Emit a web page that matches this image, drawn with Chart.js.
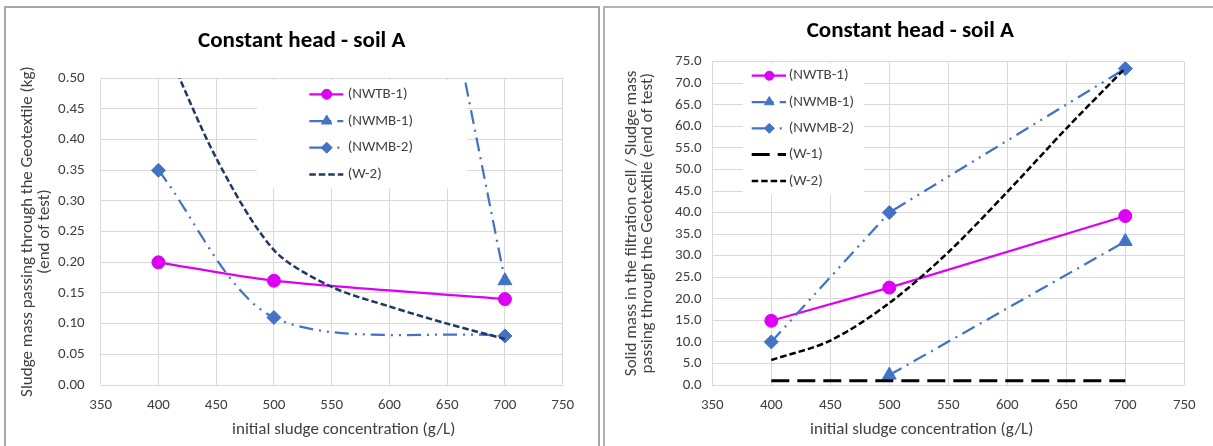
<!DOCTYPE html>
<html><head><meta charset="utf-8">
<script src="https://cdn.jsdelivr.net/npm/chart.js@4.4.0/dist/chart.umd.min.js"></script>
<style>
html,body{margin:0;padding:0;background:#fff;overflow:hidden;}
#wrap{position:relative;width:1213px;height:446px;overflow:hidden;}
.panel{position:absolute;border:2px solid #a6a6a6;box-sizing:border-box;}
canvas{position:absolute;top:0;}
</style></head><body>
<div id="wrap">
<div class="panel" style="left:4px;top:6px;width:596px;height:470px;"></div>
<div class="panel" style="left:603px;top:6px;width:626px;height:470px;border-color:#b4b4b4"></div>
<canvas id="c1" width="600" height="446" style="left:0"></canvas>
<canvas id="c2" width="609" height="446" style="left:604px"></canvas>
</div>
<script>
// ---------- data ----------
const concentrations = [400, 500, 700];
const wConcentrations = [400, 450, 500, 550, 600, 650, 700];
const seriesNames = ['(NWTB-1)', '(NWMB-1)', '(NWMB-2)', '(W-1)', '(W-2)'];
const chartTitle = 'Constant head - soil A';
const xAxisTitle = 'initial sludge concentration (g/L)';
const leftYTitle = ['Sludge mass passing through the Geotextile (kg)', '(end of test)'];
const rightYTitle = ['Solid mass in the filtration cell / Sludge mass', 'passing through the Geotextile (end of test)'];
const xRange = [350, 750, 50];
const leftYRange = [0, 0.5, 0.05];
const rightYRange = [0, 75, 5];

// left chart: sludge mass passing (kg)
const leftNWTB1 = [0.20, 0.17, 0.14];
const leftNWMB1 = [null, 2.06, 0.17];
const leftNWMB2 = [0.35, 0.11, 0.08];
const leftW2 = [0.58, 0.37, 0.22, 0.16, 0.128, 0.10, 0.075];

// right chart: ratio
const rightNWTB1 = [14.9, 22.6, 39.2];
const rightNWMB1 = [null, 2.3, 33.3];
const rightNWMB2 = [10.0, 40.0, 73.4];
const rightW1 = [1.0, 1.0, 1.0];
const rightW2 = [5.8, 10.3, 19.0, 30.8, 44.8, 59.5, 73.5];

// ---------- styling ----------
const FONT = 'Carlito, Lato, "Open Sans", sans-serif';
Chart.defaults.font.family = FONT;
const MAGENTA = '#DD00F5', BLUE = '#4472C4', NAVY = '#1F3864', BLACK = '#000000';
const TXT = '#404040', GRID = '#d9d9d9';
const DASH_DOT = [14, 6, 2, 6];
const DASH_DOT_DOT = [14, 6, 2, 6, 2, 6];
const SHORT_DASH = [6.5, 3];
const LONG_DASH = [18, 8];

const pts = (xs, ys) => xs.map((x, i) => ({x: x, y: ys[i]}));

function ds(label, data, color, width, dash, style, radius, tension, order) {
  return {
    label, data, borderColor: color, backgroundColor: color, borderWidth: width,
    borderDash: dash, pointStyle: style || 'circle', pointRadius: radius,
    pointBackgroundColor: color, pointBorderColor: color, pointBorderWidth: 1,
    pointHoverRadius: radius, tension: tension, fill: false, order: order, spanGaps: false
  };
}

const boxLegend = {
  id: 'boxLegend',
  beforeDatasetsDraw(chart, args, o) {
    if (!o || !o.box) return;
    const ctx = chart.ctx;
    ctx.save();
    ctx.fillStyle = '#ffffff';
    ctx.fillRect(o.box[0], o.box[1], o.box[2] - o.box[0], o.box[3] - o.box[1]);
    ctx.restore();
  },
  afterDatasetsDraw(chart, args, o) {
    if (!o || !o.box) return;
    const ctx = chart.ctx;
    chart.data.datasets.forEach((d, i) => {
      const y = o.y0 + i * o.dy;
      ctx.save();
      ctx.strokeStyle = d.borderColor;
      ctx.lineWidth = d.borderWidth;
      ctx.setLineDash(d.borderDash || []);
      ctx.beginPath(); ctx.moveTo(o.x1, y); ctx.lineTo(o.x2, y); ctx.stroke();
      ctx.setLineDash([]);
      if (d.pointRadius > 0) {
        ctx.fillStyle = d.pointBackgroundColor;
        ctx.strokeStyle = d.pointBorderColor;
        ctx.lineWidth = 1;
        Chart.helpers.drawPoint(ctx, {pointStyle: d.pointStyle, radius: o.markerR[d.pointStyle], rotation: 0, borderWidth: 1}, o.xm, y);
      }
      ctx.fillStyle = TXT;
      ctx.font = o.fontSize + 'px ' + FONT;
      ctx.textBaseline = 'middle';
      ctx.textAlign = 'left';
      ctx.fillText(d.label, o.xt, y);
      ctx.restore();
    });
  }
};

const titleShift = {
  id: 'titleShift',
  afterLayout(chart, args, o) {
    const s = chart.scales.x;
    if (!s || s._shiftPatched) return;
    const orig = s.drawTitle;
    s.drawTitle = function () {
      this.ctx.save();
      this.ctx.translate(o.dx || 0, 0);
      orig.apply(this, arguments);
      this.ctx.restore();
    };
    s._shiftPatched = true;
  }
};

function makeChart(id, c) {
  return new Chart(document.getElementById(id), {
    type: 'line',
    data: {datasets: c.datasets},
    plugins: [boxLegend, titleShift],
    options: {
      responsive: false, animation: false, maintainAspectRatio: false,
      layout: {padding: {left: c.padL, right: c.padR, top: 0, bottom: 0}},
      plugins: {
        legend: {display: false},
        tooltip: {enabled: false},
        title: {display: true, text: chartTitle, color: '#000',
          font: {family: FONT, size: 23, weight: 'bold', lineHeight: 1.2},
          padding: {top: c.titleTop, bottom: c.titleBottom}},
        boxLegend: c.legend,
        titleShift: {dx: c.xTitleDx}
      },
      scales: {
        x: {
          type: 'linear', min: xRange[0], max: xRange[1],
          ticks: {stepSize: xRange[2], padding: 11, color: TXT, font: {size: 15, lineHeight: 1.2}},
          grid: {color: GRID, lineWidth: 1, drawTicks: false},
          border: {display: false},
          title: {display: true, text: xAxisTitle, color: TXT, font: {size: 17, lineHeight: 1.2}, padding: {top: 0, bottom: 5.8}},
          afterFit(s) { s.height = 61; }
        },
        y: {
          type: 'linear', min: c.yRange[0], max: c.yRange[1],
          ticks: {stepSize: c.yRange[2], padding: c.yTickPad, color: TXT, font: {size: 15},
            callback: v => Number(v).toFixed(c.dec)},
          grid: {color: GRID, lineWidth: 1, drawTicks: false},
          border: {display: false},
          title: {display: true, text: c.yTitle, color: TXT, font: {size: 17, lineHeight: 16.5 / 17}, padding: {top: c.yTitlePad, bottom: 0}},
          afterFit(s) { s.width = c.yWidth; }
        }
      }
    }
  });
}

const markerR = {circle: 6.5, triangle: 8, rectRot: 7};

makeChart('c1', {
  datasets: [
    ds(seriesNames[0], pts(concentrations, leftNWTB1), MAGENTA, 2.25, [], 'circle', markerR.circle, 0.3, 0),
    ds(seriesNames[1], pts(concentrations, leftNWMB1), BLUE, 2.25, DASH_DOT, 'triangle', markerR.triangle, 0.3, -1),
    ds(seriesNames[2], pts(concentrations, leftNWMB2), BLUE, 2.25, DASH_DOT_DOT, 'rectRot', markerR.rectRot, 0.3, -2),
    ds(seriesNames[4], pts(wConcentrations, leftW2), NAVY, 2.5, SHORT_DASH, 'circle', 0, 0.3, -3)
  ],
  padL: 40.7, padR: 37.3, titleTop: 27.9, titleBottom: 22.8,
  yRange: leftYRange, dec: 2, yTickPad: 16, yTitle: leftYTitle, yTitlePad: -20.95, yWidth: 60,
  xTitleDx: 12,
  legend: {box: [257, 80, 467, 188], y0: 94.3, dy: 26.7, x1: 309.3, x2: 343.3, xm: 326.7, xt: 347.7,
    fontSize: 15, markerR: {circle: 5, triangle: 6, rectRot: 5.5}}
});

makeChart('c2', {
  datasets: [
    ds(seriesNames[0], pts(concentrations, rightNWTB1), MAGENTA, 2.25, [], 'circle', markerR.circle, 0, 0),
    ds(seriesNames[1], pts(concentrations, rightNWMB1), BLUE, 2.25, DASH_DOT, 'triangle', markerR.triangle, 0, -1),
    ds(seriesNames[2], pts(concentrations, rightNWMB2), BLUE, 2.25, DASH_DOT_DOT, 'rectRot', markerR.rectRot, 0, -2),
    ds(seriesNames[3], pts(concentrations, rightW1), BLACK, 3, LONG_DASH, 'circle', 0, 0, -3),
    ds(seriesNames[4], pts(wConcentrations, rightW2), BLACK, 2.5, SHORT_DASH, 'circle', 0, 0.3, -4)
  ],
  padL: 32.3, padR: 28.7, titleTop: 17.9, titleBottom: 16.2,
  yRange: rightYRange, dec: 1, yTickPad: 10.6, yTitle: rightYTitle, yTitlePad: -12.85, yWidth: 76,
  xTitleDx: -26.6,
  legend: {box: [139, 63.5, 260, 195], y0: 75.7, dy: 26.3, x1: 147.7, x2: 182, xm: 165.3, xt: 184.7,
    fontSize: 15, markerR: {circle: 4.5, triangle: 5.5, rectRot: 5}}
});
</script>
</body></html>
